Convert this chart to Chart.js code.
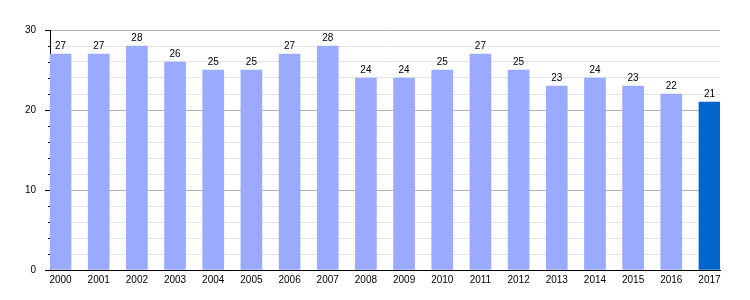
<!DOCTYPE html>
<html>
<head>
<meta charset="utf-8">
<script src="https://cdn.jsdelivr.net/npm/chart.js@4/dist/chart.umd.min.js"></script>
<style>
  html, body { margin: 0; padding: 0; background: #fff; }
  #wrap { width: 750px; height: 300px; }
</style>
</head>
<body>
<div id="wrap"><canvas id="chart"></canvas></div>
<script>
// chart data
const years = ['2000', '2001', '2002', '2003', '2004', '2005', '2006', '2007', '2008',
  '2009', '2010', '2011', '2012', '2013', '2014', '2015', '2016', '2017'];
const values = [27, 27, 28, 26, 25, 25, 27, 28, 24, 24, 25, 27, 25, 23, 24, 23, 22, 21];
const yTicks = [0, 10, 20, 30];

const lightBlue = '#99aaff';
const darkBlue = '#0066cc';
const FONT = 'Liberation Sans, Arial, sans-serif';

// value labels above bars + short minor ticks on the y axis
const extrasPlugin = {
  id: 'extras',
  afterDatasetsDraw(chart) {
    const ctx = chart.ctx;
    const meta = chart.getDatasetMeta(0);
    ctx.save();
    ctx.fillStyle = '#000';
    ctx.font = '10px ' + FONT;
    ctx.textAlign = 'center';
    ctx.textBaseline = 'alphabetic';
    meta.data.forEach((bar, i) => {
      ctx.fillText(String(values[i]), bar.x, bar.y - 5);
    });
    const y = chart.scales.y;
    ctx.strokeStyle = '#000';
    ctx.lineWidth = 1;
    for (let v = 2; v < 30; v += 2) {
      if (v % 10 === 0) continue;
      const py = Math.round(y.getPixelForValue(v)) + 0.5;
      ctx.beginPath();
      ctx.moveTo(y.right - 2, py);
      ctx.lineTo(y.right, py);
      ctx.stroke();
    }
    ctx.restore();
  }
};

const points = values.map((v, i) => ({ x: i, y: v }));

new Chart(document.getElementById('chart'), {
  type: 'bar',
  data: {
    datasets: [{
      data: points,
      backgroundColor: values.map((v, i) => i === values.length - 1 ? darkBlue : lightBlue),
      borderWidth: 0,
      barThickness: 21
    }]
  },
  options: {
    responsive: true,
    maintainAspectRatio: false,
    animation: false,
    layout: { padding: { top: 30, right: 30, left: 0, bottom: 0 } },
    plugins: {
      legend: { display: false },
      tooltip: { enabled: false }
    },
    scales: {
      x: {
        type: 'linear',
        offset: false,
        min: -0.276,
        max: years.length - 1 + 0.276,
        grid: { display: false, drawTicks: false },
        border: { color: '#000', width: 1 },
        afterBuildTicks: (scale) => {
          scale.ticks = years.map((y, i) => ({ value: i }));
        },
        ticks: {
          color: '#000',
          font: { family: FONT, size: 10 },
          padding: 4,
          maxRotation: 0,
          autoSkip: false,
          callback: (v) => years[v]
        },
        afterFit: (scale) => { scale.height = 30; }
      },
      y: {
        min: 0,
        max: 30,
        afterBuildTicks: (scale) => {
          const t = [];
          for (let v = 0; v <= 30; v += 2) t.push({ value: v });
          scale.ticks = t;
        },
        grid: {
          color: (c) => (c.tick && c.tick.value % 10 === 0) ? '#b4b4b4' : '#e4e4e4',
          tickColor: (c) => (c.tick && c.tick.value % 10 === 0) ? '#000' : 'rgba(0,0,0,0)',
          tickLength: 5,
          lineWidth: 1
        },
        border: { color: '#000', width: 1 },
        ticks: {
          color: '#000',
          font: { family: FONT, size: 10 },
          padding: 9,
          autoSkip: false,
          callback: (v) => yTicks.includes(v) ? String(v) : ''
        },
        afterFit: (scale) => { scale.width = 50; }
      }
    }
  },
  plugins: [extrasPlugin]
});
</script>
</body>
</html>
